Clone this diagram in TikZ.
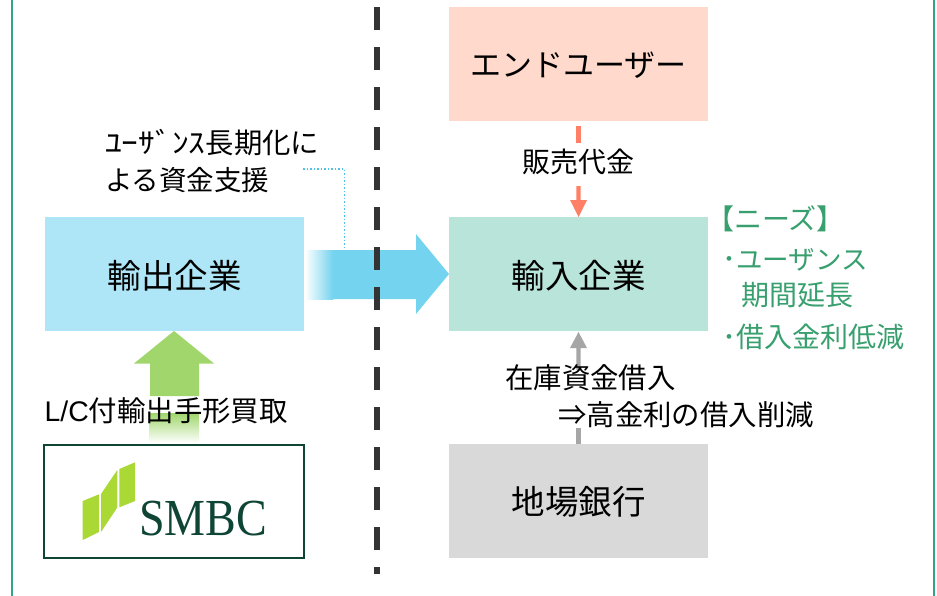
\documentclass[tikz,border=0pt]{standalone}
\usepackage{fontspec}
\setmainfont{Noto Sans CJK JP}
\newfontfamily\logofont{Liberation Serif}
\newfontfamily\latinfont{Liberation Sans}
\definecolor{framec}{HTML}{2FA58A}
\definecolor{bluebox}{HTML}{AEE6F7}
\definecolor{bluearrow}{HTML}{74D3EE}
\definecolor{dotc}{HTML}{4FC3E6}
\definecolor{tealbox}{HTML}{B9E4D9}
\definecolor{peach}{HTML}{FFD9CC}
\definecolor{salmon}{HTML}{FF8066}
\definecolor{graybox}{HTML}{D9D9D9}
\definecolor{grayarrow}{HTML}{A6A6A6}
\definecolor{greenarrow}{HTML}{A0D66C}
\definecolor{needs}{HTML}{389F6E}
\definecolor{smbcdark}{HTML}{0F4535}
\definecolor{smbclime}{HTML}{AAD835}
\tikzset{
  x=1pt,y=-1pt,
  boxn/.style={minimum width=259pt,minimum height=114pt,inner sep=0pt,text=black},
  boxt/.style={inner sep=0pt,font=\fontsize{33.5}{34}\selectfont,text=black},
  lab/.style={inner sep=0pt,font=\fontsize{28.4}{28}\selectfont,text=black,anchor=west},
  needn/.style={inner sep=0pt,font=\fontsize{28}{28}\selectfont,text=needs,anchor=west},
  divider/.style={black!80,line width=6.5pt,dash pattern=on 23pt off 17pt},
}
\begin{document}
\begin{tikzpicture}
\useasboundingbox (0,0) rectangle (937,595);
\fill[white] (0,0) rectangle (937,595);
% frame
\draw[framec,line width=2.5pt] (12,-5) -- (12,600);
\draw[framec,line width=2.5pt] (934,-5) -- (934,600);
% divider
\coordinate (dtop) at (376.8,7.3);
\coordinate (dbot) at (376.8,574);
\draw[divider] (dtop) -- (dbot);
% boxes
\node[boxn,fill=bluebox] (exp) at (174.5,274) {};
\node[boxt] at (174.5,275.5) {輸出企業};
\node[boxn,fill=tealbox] (imp) at (578.5,274) {};
\node[boxt] at (578.5,275.5) {輸入企業};
\node[boxn,fill=peach] (end) at (578.5,64) {};
\node[boxt,font=\fontsize{31}{31}\selectfont] at (578.5,65) {エンドユーザー};
\node[boxn,fill=graybox] (bank) at (578.5,501) {};
\node[boxt] at (578.5,502) {地場銀行};
\node[minimum width=259.5pt,minimum height=113.5pt,inner sep=0pt,draw=smbcdark,line width=2pt] (smbc) at (174,501.3) {};
% big blue arrow
\fill[bluearrow] (332,250) -- (416,250) -- (416,234) -- (449,274) -- (416,314) -- (416,299) -- (332,299) -- cycle;
\shade[left color=white,right color=bluearrow] (305,250) rectangle (333,299);
\draw[dotc,line width=1.5pt,dash pattern=on 1.5pt off 2pt] (303,169) -- (344.5,169) -- (344.5,248);
% divider over the arrow
\begin{scope}
\clip (300,240) rectangle (450,310);
\draw[divider] (dtop) -- (dbot);
\end{scope}
% green arrow
\fill[greenarrow] (174,331) -- (214,363.5) -- (199,363.5) -- (199,396) -- (150,396) -- (150,363.5) -- (134,363.5) -- cycle;
\shade[top color=greenarrow,bottom color=white] (149,413) rectangle (199,443);
% small arrows
\fill[salmon] (576.3,126) rectangle (580.7,143);
\fill[salmon] (576.3,186) -- (580.7,186) -- (580.7,200) -- (587,200) -- (578.5,217) -- (570,200) -- (576.3,200) -- cycle;
\fill[grayarrow] (578.5,332) -- (587,348) -- (580.7,348) -- (580.7,370) -- (576.3,370) -- (576.3,348) -- (570,348) -- cycle;
\fill[grayarrow] (576.3,428) rectangle (580.7,444);
% labels
\node[lab] (l1) at (105,142.5) {\scalebox{1.18}[1]{ﾕｰｻﾞﾝｽ}長期化に};
\node[lab,font=\fontsize{27.5}{28}\selectfont] (l2) at (105,180) {よる資金支援};
\node[lab,anchor=center,font=\fontsize{28}{28}\selectfont] (l3) at (578,162) {販売代金};
\node[lab] (l4) at (505,378) {在庫資金借入};
\node[lab] (l5) at (558,415) {⇒高金利の借入削減};
\node[lab] (l6) at (44.5,411) {{\latinfont L/C}付輸出手形買取};
\node[needn] (n1) at (706,219) {【ニーズ】};
\node[needn] (n2) at (722,260) {･{\fontsize{26.5}{28}\selectfont ユーザンス}};
\node[needn] (n3) at (741,295) {期間延長};
\node[needn] (n4) at (722,337) {･借入金利低減};
% logo
\fill[smbclime] (82.7,501) -- (99,494.3) -- (99,532) -- (82.7,540) -- cycle;
\fill[smbclime] (101,494) -- (117.3,470) -- (117.3,507.5) -- (101,532) -- cycle;
\fill[smbclime] (119.3,469) -- (135,462.3) -- (135,501) -- (119.3,507.3) -- cycle;
\node[inner sep=0pt,text=smbcdark,font=\logofont\fontsize{52}{52}\selectfont,anchor=center] (logo) at (203,519) {\scalebox{.885}[1]{SMBC}};
\end{tikzpicture}
\end{document}
